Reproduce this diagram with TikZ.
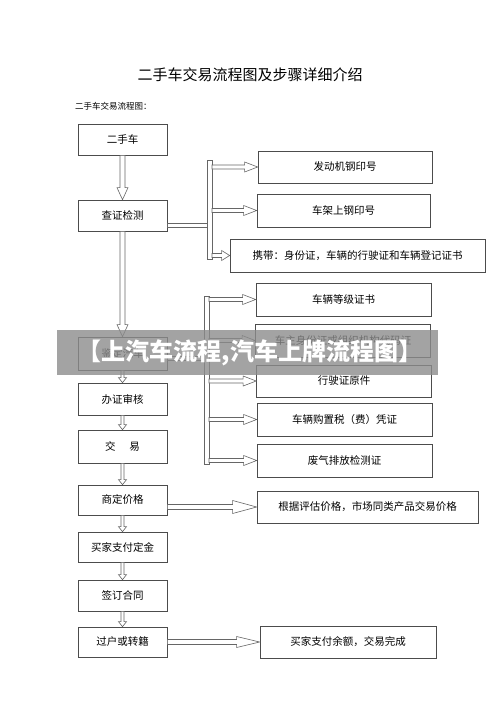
\documentclass[tikz,border=0pt]{standalone}
\usepackage{fontspec}
\setmainfont{Noto Sans CJK SC}
\usetikzlibrary{calc}
% hollow arrows: from, to, half shaft, half head, head length
\newcommand\darr[5]{\draw[hollow]let\p1=(#1),\p2=(#2)in(\x1-#3pt,\y1)--(\x1-#3pt,\y2+#5pt)--(\x1-#4pt,\y2+#5pt)--(\x1,\y2)--(\x1+#4pt,\y2+#5pt)--(\x1+#3pt,\y2+#5pt)--(\x1+#3pt,\y1)--cycle;}
\newcommand\rarr[5]{\draw[hollow]let\p1=(#1),\p2=(#2)in(\x1,\y2-#3pt)--(\x2-#5pt,\y2-#3pt)--(\x2-#5pt,\y2-#4pt)--(\x2,\y2)--(\x2-#5pt,\y2+#4pt)--(\x2-#5pt,\y2+#3pt)--(\x1,\y2+#3pt)--cycle;}
\newcommand\feed[3]{\draw[hollow]let\p1=(#1),\p2=(#2)in(\x1,\y1-#3pt+2pt)rectangle(\x2,\y1-#3pt-2pt);}
\begin{document}
\begin{tikzpicture}[x=1pt,y=-1pt,
    box/.style={draw=black!70,line width=.7pt,inner sep=0pt,font=\fontsize{10.5}{12}\selectfont},
    lbox/.style={box,minimum width=89pt,minimum height=31pt},
    rbox/.style={box,minimum width=175pt,minimum height=33pt},
    hollow/.style={draw=black!60,fill=white,line width=.6pt}]
  \useasboundingbox[fill=white](0,0)rectangle(500,706);
  \node(title)at(250,75){\fontsize{15}{18}\selectfont 二手车交易流程图及步骤详细介绍};
  \node[anchor=west,inner sep=0pt](sub)at(75,106){\fontsize{8.5}{10}\selectfont 二手车交易流程图：};

  \node[lbox](n1)at(122.5,139.5){二手车};
  \node[lbox](n2)at(122.5,215.5){查证检测};
  \node[lbox,minimum height=33pt](n3)at(122.5,353.5){鉴定汽车};
  \node[lbox,minimum height=32pt](n4)at(122.5,399){办证审核};
  \node[lbox,minimum height=33pt](n5)at(122.5,446.5){交\hspace{1.3em}易};
  \node[lbox,minimum height=30pt](n6)at(122.5,500){商定价格};
  \node[lbox,minimum height=30pt](n7)at(122.5,547){买家支付定金};
  \node[lbox](n8)at(122.5,595.5){签订合同};
  \node[lbox,minimum height=30pt](n9)at(122.5,642){过户或转籍};

  \node[rbox,minimum width=174pt,minimum height=32pt](r1)at(345,167){发动机钢印号};
  \node[rbox,minimum width=173pt](r2)at(343.5,210.5){车架上钢印号};
  \node[rbox,minimum width=255pt](r3)at(357.5,255.5){携带：身份证，车辆的行驶证和车辆登记证书};

  \node[rbox](s1)at(343.5,299.5){车辆等级证书};
  \node[rbox](s2)at(343,340.5){车主身份证或组织机构代码证};
  \node[rbox,minimum height=32pt](s3)at(344,381){行驶证原件};
  \node[rbox](s4)at(344.5,419.5){车辆购置税（费）凭证};
  \node[rbox](s5)at(344.5,460.5){废气排放检测证};

  \node[rbox,minimum width=221pt,minimum height=32pt](t1)at(367.5,507){根据评估价格，市场同类产品交易价格};
  \node[rbox,minimum width=176pt,minimum height=32pt](t2)at(348,642){买家支付余额，交易完成};

  % left column
  \darr{n1.south}{n2.north}{2.5}{5.5}{12}
  \darr{n2.south}{n3.north}{2.5}{5.5}{12}
  \darr{n3.south}{n4.north}{1.5}{4}{5}
  \darr{n4.south}{n5.north}{1.5}{4}{5}
  \darr{n5.south}{n6.north}{1.5}{4}{5}
  \darr{n6.south}{n7.north}{1.5}{4}{5}
  \darr{n7.south}{n8.north}{1.5}{4}{5}
  \darr{n8.south}{n9.north}{1.5}{4}{5}

  % upper bus
  \coordinate(ul)at(207,160);\coordinate(ur)at(212,259);
  \feed{n2.east}{ul}{9.5}
  \draw[hollow](ul)rectangle(ur);
  \rarr{ur}{r1.west}{2}{5}{13}
  \rarr{ur}{r2.west}{2}{5}{13}
  \rarr{ur}{r3.west}{2}{5}{8}

  % lower bus
  \coordinate(ll)at(204,296);\coordinate(lr)at(209,464);
  \feed{n3.east}{ll}{4.5}
  \draw[hollow](ll)rectangle(lr);
  \rarr{lr}{s1.west}{2}{5}{13}
  \rarr{lr}{s2.west}{2}{5}{13}
  \rarr{lr}{s3.west}{2}{5}{13}
  \rarr{lr}{s4.west}{2}{5}{13}
  \rarr{lr}{s5.west}{2}{5}{13}

  \rarr{n6.east}{t1.west}{2.5}{6.5}{24}
  \rarr{n9.east}{t2.west}{2.5}{5.5}{23}

  % banner
  \fill[black!45,opacity=.8](57,330)rectangle(438,375);
  \node[text=white,font=\fontsize{24}{26}\selectfont\bfseries](mark)at(250,352.5){【上汽车流程,汽车上牌流程图】};
\end{tikzpicture}
\end{document}
